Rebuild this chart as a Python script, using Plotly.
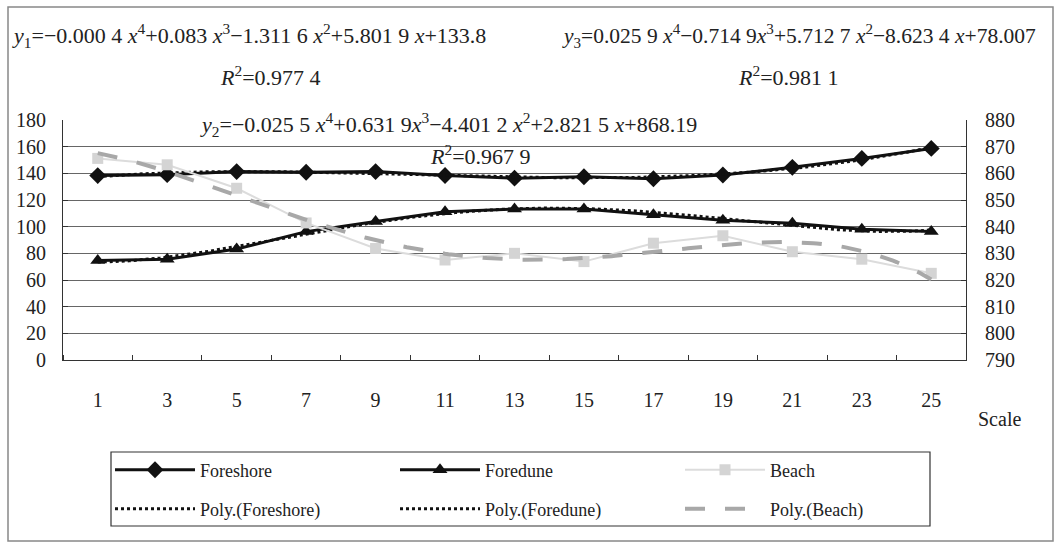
import numpy as np
import plotly.graph_objects as go

# ---------------- data ----------------
scale_labels = ["1", "3", "5", "7", "9", "11", "13", "15", "17", "19", "21", "23", "25"]
point_index = list(range(1, 14))
foreshore = [138.3, 139.0, 141.3, 140.8, 141.3, 138.4, 136.4, 137.4, 135.9, 138.8, 144.5, 151.2, 158.7]
foredune = [74.6, 75.6, 83.2, 96.3, 103.8, 111.2, 113.2, 113.2, 108.9, 104.9, 102.5, 98.0, 96.4]
beach = [865.6, 863.2, 854.4, 841.4, 831.8, 827.5, 830.0, 826.9, 833.8, 836.6, 830.6, 827.8, 822.5]

eq1 = "<i>y</i><sub>1</sub>=\u22120.000 4 <i>x</i><sup>4</sup>+0.083 <i>x</i><sup>3</sup>\u22121.311 6 <i>x</i><sup>2</sup>+5.801 9 <i>x</i>+133.8"
r1 = "<i>R</i><sup>2</sup>=0.977 4"
eq2 = "<i>y</i><sub>2</sub>=\u22120.025 5 <i>x</i><sup>4</sup>+0.631 9<i>x</i><sup>3</sup>\u22124.401 2 <i>x</i><sup>2</sup>+2.821 5 <i>x</i>+868.19"
r2 = "<i>R</i><sup>2</sup>=0.967 9"
eq3 = "<i>y</i><sub>3</sub>=0.025 9 <i>x</i><sup>4</sup>\u22120.714 9<i>x</i><sup>3</sup>+5.712 7 <i>x</i><sup>2</sup>\u22128.623 4 <i>x</i>+78.007"
r3 = "<i>R</i><sup>2</sup>=0.981 1"

# ---------------- layout geometry ----------------
FW, FH = 1060, 548
L, RGT, TOP, BOT = 63, 966, 120, 360
W, H = RGT - L, BOT - TOP
FONT = "Liberation Serif"


def xp(px):
    return (px - L) / W


def yp(py):
    return (BOT - py) / H


# polynomial (order 4) trend lines, like the spreadsheet trendline
xs = np.linspace(1, 13, 241)
fit_fs = np.polyval(np.polyfit(point_index, foreshore, 4), xs)
fit_fd = np.polyval(np.polyfit(point_index, foredune, 4), xs)
fit_bc = np.polyval(np.polyfit(point_index, beach, 4), xs)

fig = go.Figure()

fig.add_trace(go.Scatter(x=point_index, y=foreshore, name="Foreshore", mode="lines+markers",
                         line=dict(color="#111111", width=3),
                         marker=dict(symbol="diamond", size=13, color="#111111"),
                         legend="legend"))
fig.add_trace(go.Scatter(x=point_index, y=foredune, name="Foredune", mode="lines+markers",
                         line=dict(color="#111111", width=3),
                         marker=dict(symbol="triangle-up", size=13, color="#111111"),
                         legend="legend"))
fig.add_trace(go.Scatter(x=point_index, y=beach, name="Beach", mode="lines+markers", yaxis="y2",
                         line=dict(color="#dcdcdc", width=2),
                         marker=dict(symbol="square", size=11, color="#d4d4d4"),
                         legend="legend"))
fig.add_trace(go.Scatter(x=xs, y=fit_fs, name="Poly.(Foreshore)", mode="lines",
                         line=dict(color="#111111", width=3, dash="dot"), legend="legend2"))
fig.add_trace(go.Scatter(x=xs, y=fit_fd, name="Poly.(Foredune)", mode="lines",
                         line=dict(color="#111111", width=3, dash="dot"), legend="legend2"))
fig.add_trace(go.Scatter(x=xs, y=fit_bc, name="Poly.(Beach)", mode="lines", yaxis="y2",
                         line=dict(color="#a8a8a8", width=4, dash="longdash"), legend="legend2"))

annos = []


def add_text(text, px, py, anchor="left", size=22):
    annos.append(dict(text=text, x=xp(px), y=yp(py), xref="paper", yref="paper",
                      xanchor=anchor, yanchor="middle", showarrow=False,
                      font=dict(family=FONT, size=size, color="#222222")))


add_text(eq1, 10, 36)
add_text(r1, 218, 76)
add_text(eq3, 560, 36, size=21.5)
add_text(r3, 736, 76)
add_text(eq2, 198, 124)
add_text(r2, 428, 155)
add_text("Scale", 976, 419, size=20)

shapes = [
    # legend box
    dict(type="rect", xref="paper", yref="paper", x0=xp(111), x1=xp(930), y0=yp(452), y1=yp(526),
         line=dict(color="#333333", width=1.2), fillcolor="rgba(0,0,0,0)"),
    # chart border
    dict(type="rect", xref="paper", yref="paper", x0=xp(8), x1=xp(1053), y0=yp(7), y1=yp(541),
         line=dict(color="#888888", width=1.5), fillcolor="rgba(0,0,0,0)"),
]

legend_common = dict(orientation="h", xanchor="left", yanchor="middle", entrywidth=190,
                     itemwidth=80, bgcolor="rgba(0,0,0,0)", borderwidth=0,
                     font=dict(family=FONT, size=18, color="#222222"))

fig.update_layout(
    width=FW, height=FH,
    margin=dict(l=L, r=FW - RGT, t=TOP, b=FH - BOT),
    paper_bgcolor="white", plot_bgcolor="white",
    font=dict(family=FONT, size=20, color="#222222"),
    showlegend=True,
    legend=dict(x=xp(110), y=yp(470), **legend_common),
    legend2=dict(x=xp(110), y=yp(509), **legend_common),
    xaxis=dict(range=[0.5, 13.5], tickmode="array", tickvals=point_index, ticktext=scale_labels,
               ticks="", showgrid=False, showline=True, linecolor="#333333", linewidth=1.2,
               ticklabelstandoff=22, zeroline=False,
               tickfont=dict(family=FONT, size=20, color="#222222"),
               minor=dict(tickmode="linear", tick0=0.5, dtick=1, ticks="inside", ticklen=5,
                          tickcolor="#333333", showgrid=False)),
    yaxis=dict(range=[0, 180], dtick=20, ticks="inside", ticklen=5, tickcolor="#333333",
               showline=True, linecolor="#333333", linewidth=1.2, showgrid=True,
               gridcolor="#666666", gridwidth=1, zeroline=False, ticklabelstandoff=12,
               tickfont=dict(family=FONT, size=20, color="#222222")),
    yaxis2=dict(range=[790, 880], dtick=10, overlaying="y", side="right", ticks="inside",
                ticklen=5, tickcolor="#333333", showline=True, linecolor="#333333", linewidth=1.2,
                showgrid=False, zeroline=False, ticklabelstandoff=14,
                tickfont=dict(family=FONT, size=20, color="#222222")),
    annotations=annos,
    shapes=shapes,
)

fig.write_html("out.html", config={"displayModeBar": False},
               post_script="document.body.style.margin='0px';")
